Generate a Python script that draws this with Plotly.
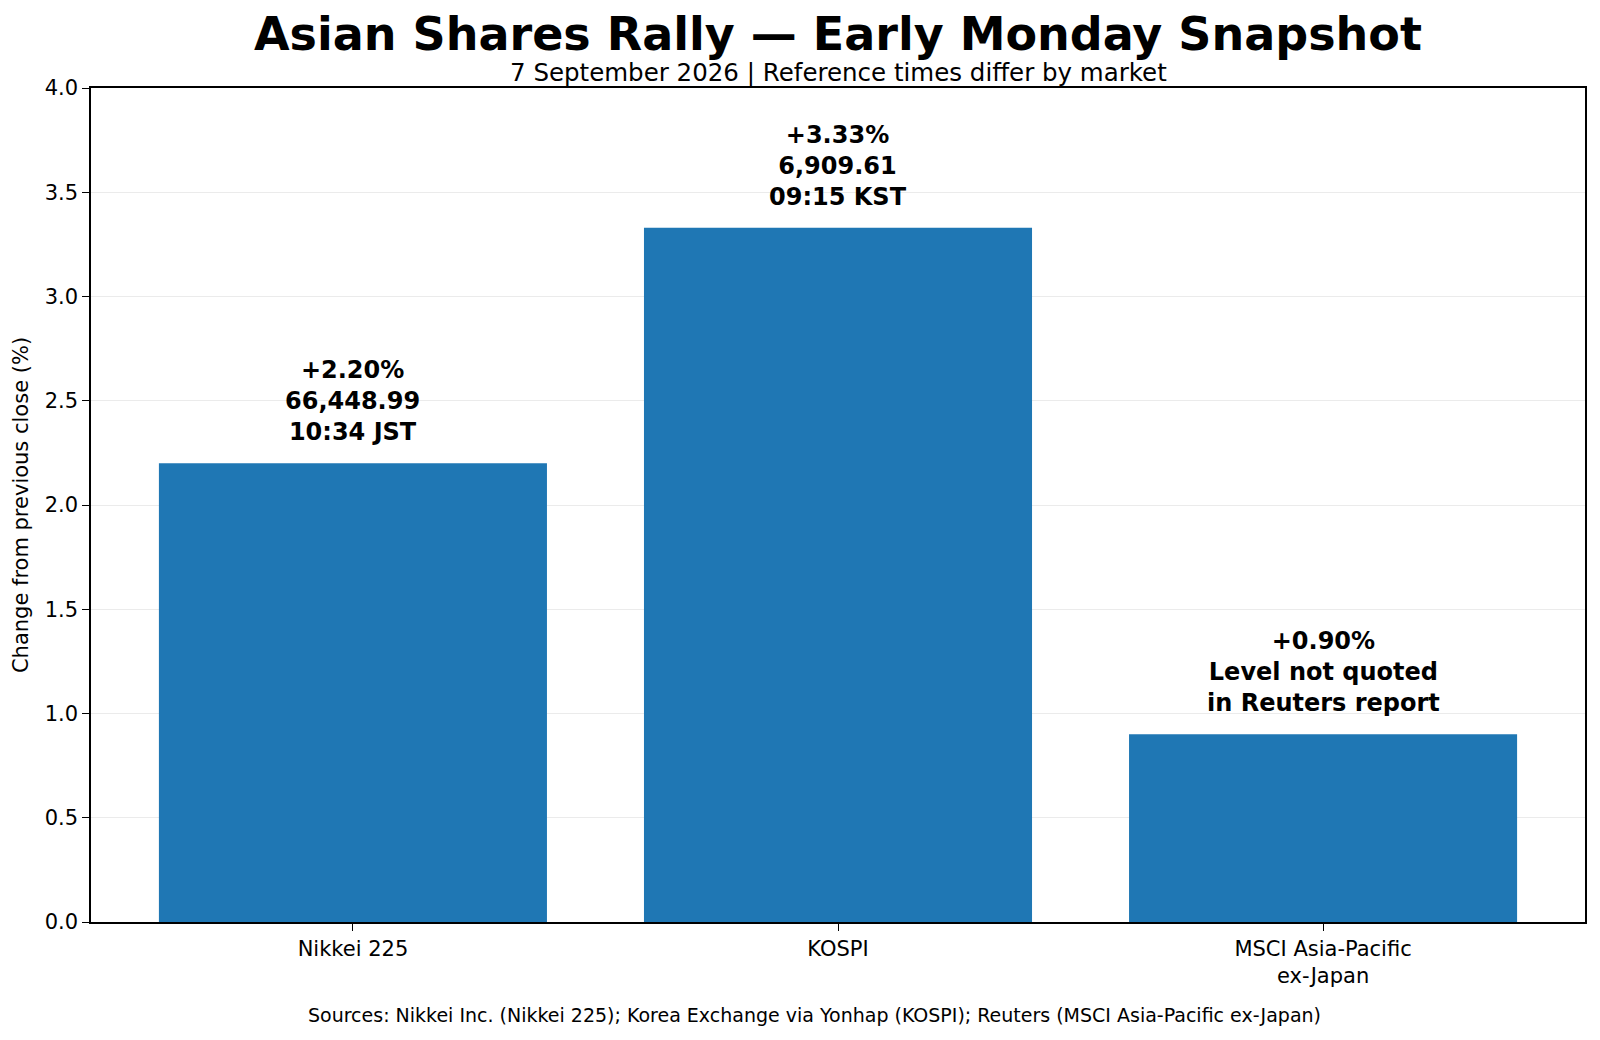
import plotly.graph_objects as go

# Data
indices = ["Nikkei 225", "KOSPI", "MSCI Asia-Pacific<br>ex-Japan"]
pct_change = [2.20, 3.33, 0.90]
levels = ["66,448.99", "6,909.61", None]
ref_times = ["10:34 JST", "09:15 KST", None]

FONT = "DejaVu Sans"

fig = go.Figure()
fig.add_trace(go.Bar(
    x=list(range(len(indices))),
    y=pct_change,
    width=0.8,
    marker=dict(color="#1f77b4", line=dict(width=0)),
    hoverinfo="skip",
))

# labels above each bar
for i, v in enumerate(pct_change):
    if levels[i] is not None:
        txt = f"+{v:.2f}%<br>{levels[i]}<br>{ref_times[i]}"
    else:
        txt = f"+{v:.2f}%<br>Level not quoted<br>in Reuters report"
    fig.add_annotation(
        x=i, y=v, text=f"<b>{txt}</b>", showarrow=False,
        yanchor="bottom", yshift=15,
        font=dict(family=FONT, size=24, color="black"),
    )

# title + subtitle sit just above the frame
fig.add_annotation(
    xref="paper", yref="paper", x=0.5, y=1.0, yshift=54,
    text="<b>Asian Shares Rally — Early Monday Snapshot</b>",
    showarrow=False, yanchor="middle",
    font=dict(family=FONT, size=46, color="black"),
)
fig.add_annotation(
    xref="paper", yref="paper", x=0.5, y=1.0, yshift=15.5,
    text="7 September 2026 | Reference times differ by market",
    showarrow=False, yanchor="middle",
    font=dict(family=FONT, size=24.5, color="black"),
)
fig.add_annotation(
    xref="paper", yref="paper", x=0.484, y=0, yshift=-93,
    text="Sources: Nikkei Inc. (Nikkei 225); Korea Exchange via Yonhap (KOSPI); Reuters (MSCI Asia-Pacific ex-Japan)",
    showarrow=False, yanchor="middle",
    font=dict(family=FONT, size=19, color="black"),
)

fig.update_layout(
    width=1600, height=1040,
    margin=dict(l=83, r=23, t=80, b=126),
    plot_bgcolor="white", paper_bgcolor="white",
    showlegend=False,
    font=dict(family=FONT, size=21, color="black"),
    xaxis=dict(
        range=[-0.54, 2.54],
        tickmode="array", tickvals=list(range(len(indices))), ticktext=indices,
        ticks="outside", ticklen=7, tickcolor="black",
        showline=True, linecolor="black", linewidth=1.5, mirror=True,
        showgrid=False, zeroline=False,
        tickfont=dict(size=21),
    ),
    yaxis=dict(
        range=[0, 4], dtick=0.5, tickformat=".1f",
        ticks="outside", ticklen=7, tickcolor="black",
        showline=True, linecolor="black", linewidth=1.5, mirror=True,
        showgrid=True, gridcolor="#ebebeb", gridwidth=1, zeroline=False,
        title=dict(text="Change from previous close (%)", font=dict(size=21), standoff=10),
        tickfont=dict(size=21),
    ),
)

fig.write_html("out.html")
